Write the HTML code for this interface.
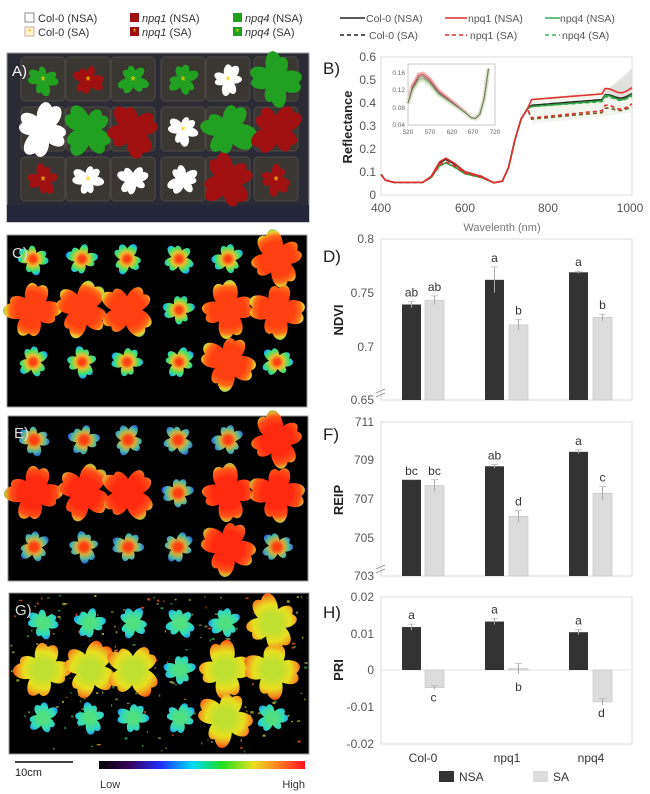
<!DOCTYPE html>
<html><head><meta charset="utf-8">
<style>
html,body{margin:0;padding:0;background:#fff;}
body{width:650px;height:794px;overflow:hidden;position:relative;font-family:"Liberation Sans",Arial,sans-serif;}
svg{position:absolute;left:0;top:0;}
</style></head>
<body>
<svg id="s" width="650" height="794" viewBox="0 0 650 794" xmlns="http://www.w3.org/2000/svg" font-family="Liberation Sans, Arial, sans-serif">
<defs id="defs">
<linearGradient id="cb" x1="0" x2="1" y1="0" y2="0">
<stop offset="0" stop-color="#000"/><stop offset="0.15" stop-color="#3a0060"/><stop offset="0.3" stop-color="#2030ff"/>
<stop offset="0.45" stop-color="#00d8ff"/><stop offset="0.6" stop-color="#20e020"/><stop offset="0.75" stop-color="#e8e020"/>
<stop offset="0.87" stop-color="#ff8020"/><stop offset="1" stop-color="#ff1020"/></linearGradient>
</defs>

<g font-size="11" fill="#333">
<rect x="25" y="13" width="9" height="9" fill="#fff" stroke="#888"/><text x="38" y="22">Col-0 (NSA)</text>
<rect x="25" y="27" width="9" height="9" fill="#fff5d0" stroke="#caa"/><text x="29.5" y="35" font-size="9" fill="#f0b000" text-anchor="middle">*</text><text x="38" y="36">Col-0 (SA)</text>
<rect x="130" y="13" width="9" height="9" fill="#a01010"/><text x="142" y="22"><tspan font-style="italic">npq1</tspan> (NSA)</text>
<rect x="130" y="27" width="9" height="9" fill="#a01010"/><text x="134.5" y="35" font-size="9" fill="#ffd000" text-anchor="middle">*</text><text x="142" y="36"><tspan font-style="italic">npq1</tspan> (SA)</text>
<rect x="233" y="13" width="9" height="9" fill="#20a020"/><text x="245" y="22"><tspan font-style="italic">npq4</tspan> (NSA)</text>
<rect x="233" y="27" width="9" height="9" fill="#20a020"/><text x="237.5" y="35" font-size="9" fill="#ffe000" text-anchor="middle">*</text><text x="245" y="36"><tspan font-style="italic">npq4</tspan> (SA)</text>
</g>
<g font-size="10.5" fill="#555">
<line x1="340" y1="18" x2="365" y2="18" stroke="#222" stroke-width="1.6"/><text x="366" y="22">Col-0 (NSA)</text>
<line x1="340" y1="35" x2="365" y2="35" stroke="#222" stroke-width="1.6" stroke-dasharray="4,3"/><text x="369" y="39">Col-0 (SA)</text>
<line x1="445" y1="18" x2="467" y2="18" stroke="#e03030" stroke-width="1.6"/><text x="468" y="22">npq1 (NSA)</text>
<line x1="445" y1="35" x2="467" y2="35" stroke="#e03030" stroke-width="1.6" stroke-dasharray="4,3"/><text x="470" y="39">npq1 (SA)</text>
<line x1="545" y1="18" x2="560" y2="18" stroke="#40b060" stroke-width="1.6"/><text x="560" y="22">npq4 (NSA)</text>
<line x1="545" y1="35" x2="560" y2="35" stroke="#40b060" stroke-width="1.6" stroke-dasharray="4,3"/><text x="562" y="39">npq4 (SA)</text>
</g>

<rect x="7" y="53" width="302" height="169" fill="#2a2b35" stroke="#999"/>
<rect x="7" y="205" width="302" height="17" fill="#25283a"/>
<g id="pots"></g>
<g id="plantsA"></g>
<text x="12" y="76" font-size="15" fill="#fff">A)</text>

<rect x="7" y="235" width="300" height="172" fill="#000" stroke="#999"/>
<g id="plantsC"></g>
<text x="12" y="258" font-size="15" fill="#ddd">C)</text>
<rect x="8" y="416" width="300" height="165" fill="#000" stroke="#999"/>
<g id="plantsE"></g>
<text x="14" y="438" font-size="15" fill="#ddd">E)</text>
<rect x="9" y="593" width="300" height="161" fill="#000" stroke="#999"/>
<g id="noiseG"></g>
<g id="plantsG"></g>
<text x="15" y="615" font-size="15" fill="#ddd">G)</text>

<line x1="15" y1="762" x2="73" y2="762" stroke="#000" stroke-width="1.5"/>
<text x="15" y="776" font-size="11" fill="#222">10cm</text>
<rect x="99" y="761" width="206" height="8" fill="url(#cb)"/>
<text x="100" y="788" font-size="11" fill="#333">Low</text>
<text x="305" y="788" font-size="11" fill="#333" text-anchor="end">High</text>

<text x="323" y="74" font-size="17" fill="#222">B)</text>
<rect x="381" y="57" width="251" height="138" fill="none" stroke="#ddd"/>
<g font-size="12" fill="#555" text-anchor="end">
<text x="376" y="61">0.6</text><text x="376" y="84">0.5</text><text x="376" y="107">0.4</text><text x="376" y="130">0.3</text><text x="376" y="153">0.2</text><text x="376" y="176">0.1</text><text x="376" y="199">0</text>
</g>
<g font-size="12" fill="#555" text-anchor="middle">
<text x="381" y="212">400</text><text x="465" y="212">600</text><text x="548" y="212">800</text><text x="630" y="212">1000</text>
</g>
<text x="502" y="231" font-size="11" fill="#777" text-anchor="middle">Wavelenth (nm)</text>
<text transform="translate(352,127) rotate(-90)" font-size="13" font-weight="bold" fill="#222" text-anchor="middle">Reflectance</text>
<g id="spec"></g>
<rect x="408" y="64" width="87" height="61" fill="#fff" stroke="#bbb" stroke-width="0.8"/>
<g id="inset"></g>
<g font-size="6.5" fill="#666" text-anchor="end">
<text x="405" y="75">0.16</text><text x="405" y="92">0.12</text><text x="405" y="110">0.08</text><text x="405" y="127">0.04</text>
</g>
<g font-size="6.5" fill="#666" text-anchor="middle">
<text x="408" y="134">520</text><text x="430" y="134">570</text><text x="452" y="134">620</text><text x="473" y="134">670</text><text x="495" y="134">720</text>
</g>

<text x="323" y="262" font-size="17" fill="#222">D)</text>
<rect x="381" y="239" width="251" height="161" fill="none" stroke="#ddd"/>
<g font-size="12" fill="#555" text-anchor="end">
<text x="374" y="243">0.8</text><text x="374" y="297">0.75</text><text x="374" y="351">0.7</text><text x="374" y="404">0.65</text>
</g>
<text transform="translate(343,320) rotate(-90)" font-size="13" font-weight="bold" fill="#222" text-anchor="middle">NDVI</text>
<g id="barsD"></g>
<path d="M376,393 l9,-4 M376,397 l9,-4" stroke="#888" stroke-width="0.8"/>

<text x="323" y="440" font-size="17" fill="#222">F)</text>
<rect x="381" y="422" width="251" height="154" fill="none" stroke="#ddd"/>
<g font-size="12" fill="#555" text-anchor="end">
<text x="374" y="426">711</text><text x="374" y="464">709</text><text x="374" y="503">707</text><text x="374" y="542">705</text><text x="374" y="580">703</text>
</g>
<text transform="translate(343,500) rotate(-90)" font-size="13" font-weight="bold" fill="#222" text-anchor="middle">REIP</text>
<g id="barsF"></g>
<path d="M376,569 l9,-4 M376,573 l9,-4" stroke="#888" stroke-width="0.8"/>

<text x="323" y="618" font-size="17" fill="#222">H)</text>
<rect x="381" y="597" width="251" height="147" fill="none" stroke="#ddd"/>
<line x1="381" y1="670" x2="632" y2="670" stroke="#e4e4e4"/>
<g font-size="12" fill="#555" text-anchor="end">
<text x="374" y="601">0.02</text><text x="374" y="638">0.01</text><text x="374" y="674">0</text><text x="374" y="711">-0.01</text><text x="374" y="748">-0.02</text>
</g>
<text transform="translate(343,670) rotate(-90)" font-size="13" font-weight="bold" fill="#222" text-anchor="middle">PRI</text>
<g id="barsH"></g>
<g font-size="12" fill="#333" text-anchor="middle">
<text x="423" y="762">Col-0</text><text x="507" y="762">npq1</text><text x="591" y="762">npq4</text>
</g>
<rect x="439" y="771" width="15" height="11" fill="#333"/><text x="459" y="781" font-size="12" fill="#333">NSA</text>
<rect x="533" y="771" width="15" height="11" fill="#ddd"/><text x="553" y="781" font-size="12" fill="#333">SA</text>
</svg>
<script>
(function(){
var NS="http://www.w3.org/2000/svg";
function el(p,t,a){var e=document.createElementNS(NS,t);for(var k in a)e.setAttribute(k,a[k]);(typeof p=="string"?document.getElementById(p):p).appendChild(e);return e;}
var big=[[0,0,0,0,0,1],[1,1,1,0,1,1],[0,0,0,0,1,0]];
var colA=[["g","r","g","g","w","g"],["w","g","r","w","g","r"],["r","w","w","w","r","r"]];
var star=[[1,1,1,1,1,0],[0,0,0,1,0,0],[1,1,0,0,0,1]];
var cmap={g:"#22a022",r:"#a01010",w:"#ffffff"};
var gid=0;
function grad(cx,cy,R,stops){
  var id="pg"+(gid++);
  var g=el("defs","radialGradient",{id:id,gradientUnits:"userSpaceOnUse",cx:cx,cy:cy,r:R});
  stops.forEach(function(s){el(g,"stop",{offset:s[0],"stop-color":s[1]});});
  return "url(#"+id+")";
}
function rosette(p,cx,cy,R,fill,seed,n){
  n=n||8;
  for(var i=0;i<n;i++){
    var a=seed+i*360/n+(i%2?12:-5);
    var L=R*(0.85+0.25*((i*37+seed)%7)/7);
    el(p,"ellipse",{cx:cx,cy:cy-L*0.55,rx:L*0.3,ry:L*0.5,fill:fill,transform:"rotate("+a+" "+cx+" "+cy+")"});
  }
  el(p,"circle",{cx:cx,cy:cy,r:R*0.45,fill:fill});
}
var axs=[43,88,133,183,228,276], ays=[80,130,180];
for(var r=0;r<3;r++)for(var c=0;c<6;c++){
  el("pots","rect",{x:axs[c]-22,y:ays[r]-23,width:44,height:44,rx:4,fill:"#3a3732",stroke:"#4d4a44"});
}
for(var r=0;r<3;r++)for(var c=0;c<6;c++){
  var R=big[r][c]?26:15;
  rosette("plantsA",axs[c],ays[r],R,cmap[colA[r][c]],r*40+c*23,big[r][c]?8:7);
  if(star[r][c]){var t=el("plantsA","text",{x:axs[c],y:ays[r]+5,"font-size":"13","fill":"#ffd000","text-anchor":"middle"});t.textContent="*";}
}
function heat(p,xs,ys,sb,ss){
  for(var r=0;r<3;r++)for(var c=0;c<6;c++){
    var b=big[r][c],R=b?27:15;
    rosette(p,xs[c],ys[r],R,grad(xs[c],ys[r],R*1.15,b?sb:ss),r*31+c*17,b?8:7);
  }
}
heat("plantsC",[33,82,127,179,228,277],[259,310,362],
 [[0.55,"#ff4010"],[0.75,"#ff6a18"],[0.88,"#e8d030"],[1,"#60d070"]],
 [[0.15,"#ff4010"],[0.4,"#e8c030"],[0.65,"#50e060"],[0.85,"#20c8d8"],[1,"#2060e0"]]);
heat("plantsE",[34,84,128,178,228,277],[440,493,547],
 [[0.5,"#ff2a10"],[0.75,"#ff5018"],[0.9,"#e0b030"],[1,"#80c060"]],
 [[0.2,"#ff4010"],[0.45,"#d0b040"],[0.7,"#50b8a0"],[0.9,"#3070d0"],[1,"#2040c0"]]);
var s=7;function rnd(){s=(s*9301+49297)%233280;return s/233280;}
var nc=["#c0c040","#e0e040","#40c060","#ff6030","#a0a060"];
for(var i=0;i<220;i++){el("noiseG","rect",{x:10+rnd()*297,y:595+rnd()*157,width:1+rnd()*2.5,height:1+rnd()*1.5,fill:nc[Math.floor(rnd()*5)],opacity:0.7});}
heat("plantsG",[43,90,133,180,225,272],[623,670,718],
 [[0.3,"#c0e030"],[0.6,"#e8e020"],[0.8,"#f0a020"],[1,"#ff4010"]],
 [[0.3,"#50e080"],[0.7,"#30d8c0"],[1,"#2090f0"]]);

function X(w){return 381+(w-400)*251/600;}
function Y(v){return 195-v*230;}
var base=[[400,0.09],[410,0.065],[430,0.055],[500,0.055],[520,0.08],[540,0.14],[555,0.155],[575,0.135],[600,0.1],[640,0.08],[670,0.053],[690,0.06],[705,0.12],[720,0.24],[735,0.33],[750,0.375]];
function series(plat0,plat1,vis,col,dash,jit){
  var pts=[];
  for(var i=0;i<base.length;i++){var w=base[i][0],v=base[i][1];if(w>=520&&w<=640)v=0.055+(v-0.055)*vis;pts.push([w,v]);}
  for(var w=760;w<=1000;w+=8){var v=plat0+(plat1-plat0)*(w-760)/240;if(w>930)v+=jit*Math.sin(w*0.7)+0.01;pts.push([w,v]);}
  var d=pts.map(function(p,i){return (i?"L":"M")+X(p[0]).toFixed(1)+","+Y(p[1]).toFixed(1);}).join(" ");
  var a={d:d,fill:"none",stroke:col,"stroke-width":1.6};if(dash)a["stroke-dasharray"]="4,3";
  el("spec","path",a);
}
el("spec","path",{d:"M"+X(760)+","+Y(0.42)+" L"+X(930)+","+Y(0.45)+" L"+X(1000)+","+Y(0.52)+" L"+X(1000)+","+Y(0.36)+" L"+X(930)+","+Y(0.34)+" L"+X(760)+","+Y(0.31)+"Z",fill:"#eef2ea",opacity:0.8});
el("spec","path",{d:"M"+X(930)+","+Y(0.44)+" L"+X(1000)+","+Y(0.55)+" L"+X(1000)+","+Y(0.42)+" L"+X(930)+","+Y(0.42)+"Z",fill:"#d8d8d8",opacity:0.7});
series(0.39,0.425,1,"#222",false,0.01);
series(0.33,0.37,0.85,"#7a5a20",true,0.008);
series(0.385,0.42,0.85,"#30a040",false,0.012);
series(0.385,0.415,0.85,"#30a040",true,0.01);
series(0.335,0.38,0.9,"#e03030",true,0.012);
series(0.415,0.45,1.05,"#e03030",false,0.012);
function IX(w){return 408+(w-520)*87/200;} function IY(v){return 125-(v-0.04)*52/0.12;}
var ib=[[520,0.09],[530,0.125],[545,0.15],[555,0.152],[570,0.14],[590,0.115],[610,0.1],[630,0.085],[650,0.07],[665,0.057],[675,0.055],[685,0.065],[695,0.1],[705,0.17]];
function ip(k,col,w){var d=ib.map(function(p,i){var v=p[1];if(p[0]>=530&&p[0]<=650)v=0.06+(v-0.06)*k;return (i?"L":"M")+IX(p[0]).toFixed(1)+","+Math.max(64,IY(v)).toFixed(1);}).join(" ");el("inset","path",{d:d,fill:"none",stroke:col,"stroke-width":w});}
ip(1.07,"#f0b0b0",4);ip(0.92,"#d8e8c8",4);ip(1.05,"#c05050",1);ip(0.95,"#90a070",1);ip(1.0,"#777",1);
var bx=[[402,425],[485,509],[569,593]];
function bars(g,vals,errs,labs,yf,y0){
  for(var i=0;i<3;i++)for(var j=0;j<2;j++){
    var v=vals[i][j],x=bx[i][j],y=yf(v),top=Math.min(y,y0),h=Math.abs(y0-y);
    el(g,"rect",{x:x,y:top,width:19,height:Math.max(h,1),fill:j?"#dcdcdc":"#333",stroke:j?"#c8c8c8":"none","stroke-width":0.7});
    var e=errs[i][j];
    el(g,"line",{x1:x+9.5,x2:x+9.5,y1:yf(v-e),y2:yf(v+e),stroke:"#aaa","stroke-width":1});
    el(g,"line",{x1:x+6,x2:x+13,y1:yf(v+e),y2:yf(v+e),stroke:"#aaa","stroke-width":0.6});
    var neg=v<0, ly=neg?yf(v-e)+12:yf(v+e)-5;
    if(g=="barsH"&&i==1&&j==1)ly=y0+21;
    var t=el(g,"text",{x:x+9.5+(neg?-1:0),y:ly,"font-size":12,fill:"#333","text-anchor":"middle"});t.textContent=labs[i][j];
  }
}
bars("barsD",[[0.739,0.743],[0.762,0.720],[0.769,0.727]],[[0.003,0.004],[0.012,0.005],[0.001,0.003]],[["ab","ab"],["a","b"],["a","b"]],function(v){return 400-(v-0.65)*1073;},400);
bars("barsF",[[708.0,707.7],[708.7,706.1],[709.45,707.3]],[[0.0,0.3],[0.1,0.3],[0.1,0.35]],[["bc","bc"],["ab","d"],["a","c"]],function(v){return 576-(v-703)*19.25;},576);
bars("barsH",[[0.0117,-0.0048],[0.0132,0.0004],[0.0103,-0.0087]],[[0.0008,0.0005],[0.0008,0.0014],[0.0007,0.0009]],[["a","c"],["a","b"],["a","d"]],function(v){return 670-v*3670;},670);
})();
</script>
</body></html>
